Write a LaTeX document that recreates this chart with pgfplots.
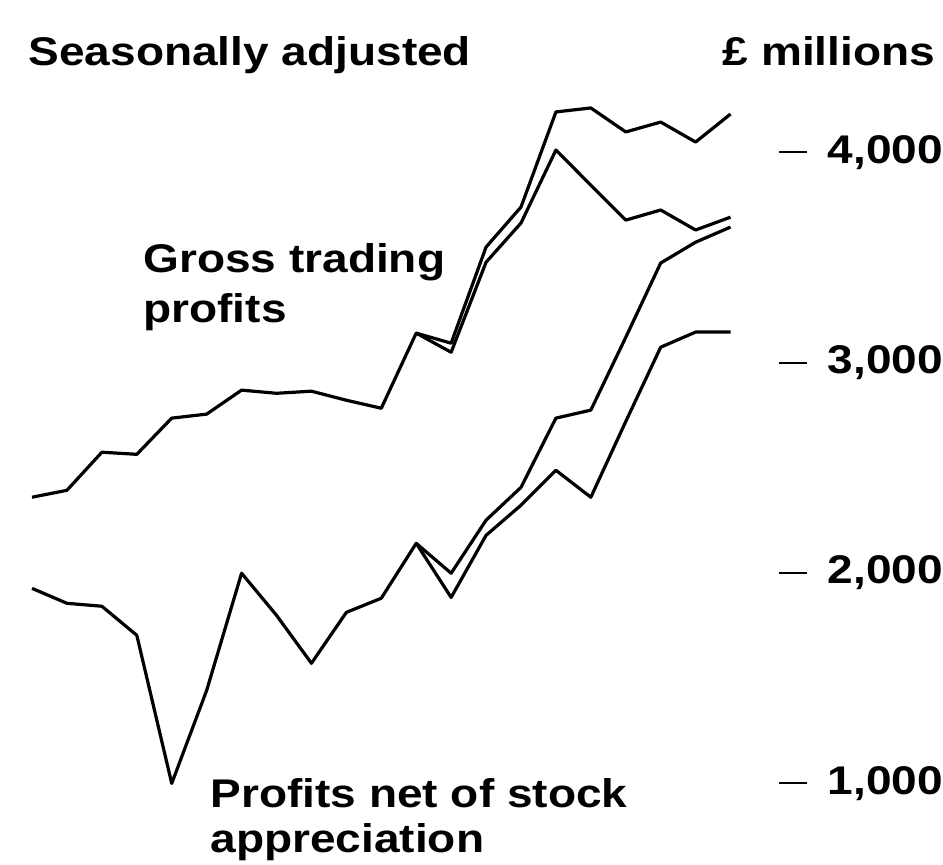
\documentclass[border=0pt]{standalone}
\usepackage{pgfplots}
\pgfplotsset{compat=1.18}
\usepackage{fontspec}
\setmainfont{Liberation Sans}[FakeStretch=1.15]
\newcommand{\lbl}{\fontsize{20}{25}\selectfont\bfseries}
\begin{document}
\begin{tikzpicture}
\begin{axis}[
  scale only axis,
  width=396.5pt, height=432pt,
  xmin=-0.917, xmax=21.8,
  ymin=615, ymax=4723,
  hide x axis,
  axis y line*=right,
  y axis line style={draw=none},
  ytick={1000,2000,3000,4000},
  yticklabels={{1,000},{2,000},{3,000},{4,000}},
  ytick align=center,
  major tick length=14pt,
  y tick style={black, line width=1pt},
  yticklabel style={font=\lbl, anchor=west, inner sep=0pt, xshift=10pt},
  clip=false,
]
\path (rel axis cs:0,0) rectangle (rel axis cs:1,1);
% Gross trading profits (upper branch)
\addplot[black, line width=1.6pt, line join=round, mark=none] coordinates {(0,2360) (1,2393) (2,2574) (3,2564) (4,2736) (5,2755) (6,2869) (7,2854) (8,2864) (9,2821) (10,2783) (11,3140) (12,3092) (13,3549) (14,3739) (15,4191) (16,4210) (17,4096) (18,4143) (19,4048) (20,4181)};
% Gross trading profits (lower branch)
\addplot[black, line width=1.6pt, line join=round, mark=none] coordinates {(11,3140) (12,3049) (13,3477) (14,3663) (15,4010) (16,3843) (17,3677) (18,3725) (19,3630) (20,3691)};
% Profits net of stock appreciation (upper branch)
\addplot[black, line width=1.6pt, line join=round, mark=none] coordinates {(0,1927) (1,1856) (2,1842) (3,1704) (4,1000) (5,1442) (6,1999) (7,1799) (8,1571) (9,1813) (10,1880) (11,2141) (12,1999) (13,2251) (14,2407) (15,2736) (16,2774) (17,3120) (18,3473) (19,3572) (20,3644)};
% Profits net of stock appreciation (lower branch)
\addplot[black, line width=1.6pt, line join=round, mark=none] coordinates {(11,2141) (12,1884) (13,2179) (14,2322) (15,2488) (16,2360) (17,2720) (18,3073) (19,3145) (20,3145)};
\node[anchor=base west, font=\lbl, inner sep=0pt] at (axis cs:-0.11,4414) {Seasonally adjusted};
\node[anchor=base east, font=\lbl, inner sep=0pt] at (axis cs:25.87,4414) {£ millions};
\node[anchor=base west, align=left, font=\lbl, inner sep=0pt] at (axis cs:3.18,3192) {Gross trading\\profits};
\node[anchor=base west, align=left, font=\fontsize{20}{22.5}\selectfont\bfseries, inner sep=0pt] at (axis cs:5.10,672) {Profits net of stock\\appreciation};
\end{axis}
\end{tikzpicture}
\end{document}
